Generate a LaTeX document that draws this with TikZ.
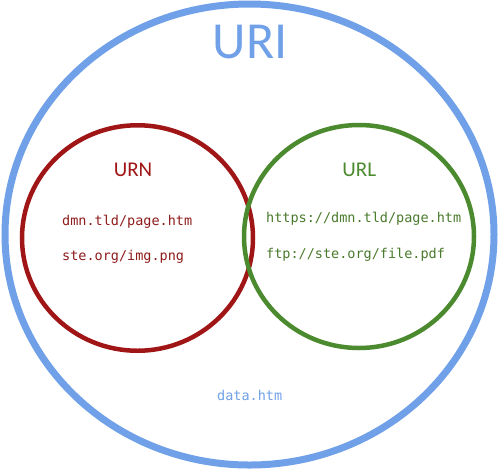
\documentclass[tikz,border=0pt]{standalone}
\usepackage{fontspec}
\setmainfont{Carlito}
\newfontfamily\monof{DejaVu Sans Mono}
\usetikzlibrary{shapes.geometric}
\definecolor{uriblue}{HTML}{6FA0E8}
\definecolor{urnred}{HTML}{A01515}
\definecolor{urlgreen}{HTML}{4B8A2E}
\definecolor{urntext}{HTML}{8E1C1C}
\definecolor{urltext}{HTML}{4A7A2C}
\tikzset{
  ring/.style={ellipse, draw, inner sep=0pt, fill=none},
  title/.style={inner sep=0pt, anchor=base},
  mono/.style={inner sep=0pt, anchor=base west, font=\monof\fontsize{13.5}{16}\selectfont},
}
\begin{document}
\begin{tikzpicture}[x=1pt,y=-1pt]
\useasboundingbox (0,0) rectangle (500,472);
\node[ring, draw=uriblue, line width=7pt, minimum width=489pt, minimum height=461pt] (uri) at (249.5,234.5) {};
\node[ring, draw=urnred, line width=4.5pt, minimum width=231pt, minimum height=225.5pt] (urn) at (137.5,238) {};
\node[ring, draw=urlgreen, line width=4.5pt, minimum width=230pt, minimum height=223pt] (url) at (359,236.5) {};
\node[title, text=uriblue, font=\fontsize{52}{60}\selectfont] (urit) at (250,58) {URI};
\node[title, text=urnred, font=\fontsize{21}{25}\selectfont] (urnt) at (133,176.7) {URN};
\node[title, text=urlgreen, font=\fontsize{21}{25}\selectfont] (urlt) at (359.3,176.7) {URL};
\node[mono, text=urntext] (n1) at (62,225) {dmn.tld/page.htm};
\node[mono, text=urntext] (n2) at (62,260.5) {ste.org/img.png};
\node[mono, text=urltext] (l1) at (266,222.7) {https://dmn.tld/page.htm};
\node[mono, text=urltext] (l2) at (266,258.7) {ftp://ste.org/file.pdf};
\node[mono, text=uriblue] (d1) at (217,400) {data.htm};
\end{tikzpicture}
\end{document}
